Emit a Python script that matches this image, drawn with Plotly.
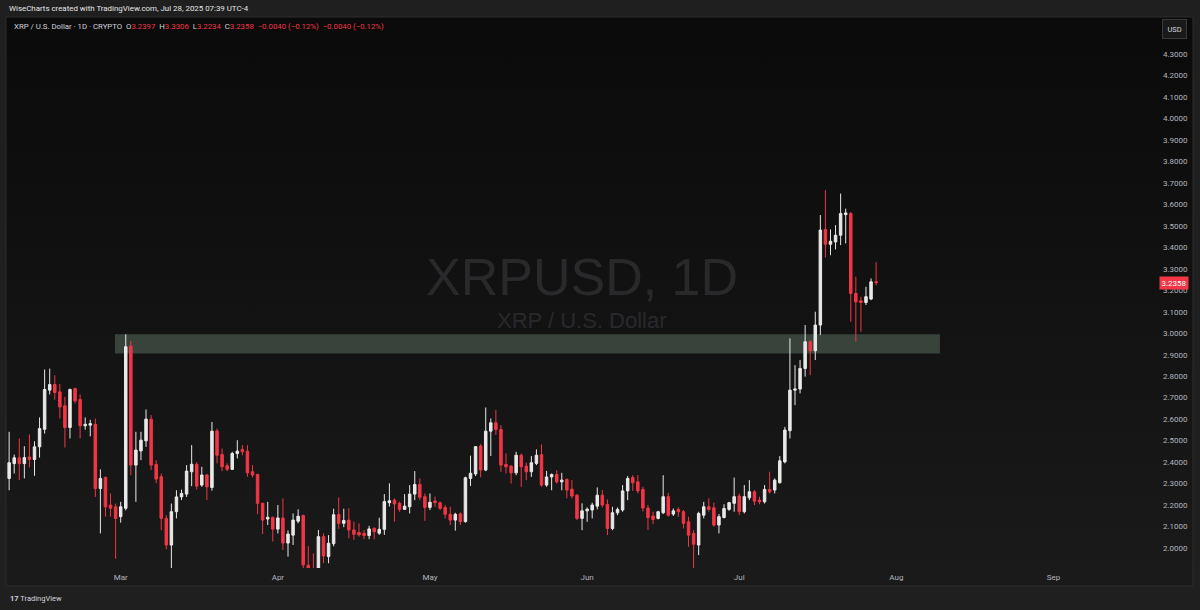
import base64
import pandas as pd
import plotly.graph_objects as go

# ---------------- data (XRP / USD, daily) ----------------
start_date = "2025-02-07"
end_date = "2025-07-28"

open_ = [
    # Feb 7-28
    2.324, 2.393, 2.420, 2.393, 2.424, 2.412, 2.471, 2.553, 2.735, 2.761, 2.727,
    2.662, 2.561, 2.742, 2.691, 2.569, 2.572, 2.576, 2.277, 2.329, 2.200, 2.192,
    # Mar
    2.146, 2.185, 2.940, 2.386, 2.452, 2.499, 2.600, 2.389, 2.332, 2.138, 2.014,
    2.169, 2.238, 2.251, 2.355, 2.390, 2.293, 2.340, 2.282, 2.545, 2.435, 2.383,
    2.366, 2.440, 2.459, 2.451, 2.355, 2.343, 2.208, 2.135, 2.143,
    # Apr
    2.088, 2.140, 2.023, 2.060, 2.125, 2.151, 1.920, 1.870, 1.800, 2.053, 1.960,
    2.020, 2.156, 2.115, 2.130, 2.084, 2.072, 2.068, 2.058, 2.092, 2.069, 2.087,
    2.211, 2.223, 2.208, 2.180, 2.192, 2.251, 2.296, 2.239,
    # May
    2.189, 2.219, 2.211, 2.189, 2.157, 2.130, 2.159, 2.123, 2.324, 2.345, 2.475,
    2.363, 2.544, 2.583, 2.552, 2.389, 2.381, 2.350, 2.432, 2.381, 2.355, 2.394,
    2.435, 2.293, 2.331, 2.342, 2.308, 2.319, 2.274, 2.246, 2.138,
    # Jun
    2.173, 2.177, 2.195, 2.246, 2.203, 2.091, 2.164, 2.177, 2.266, 2.328, 2.308,
    2.273, 2.186, 2.149, 2.138, 2.164, 2.239, 2.158, 2.180, 2.169, 2.122, 2.068,
    2.014, 2.153, 2.192, 2.187, 2.107, 2.142, 2.180, 2.208,
    # Jul 1-28
    2.242, 2.169, 2.234, 2.262, 2.223, 2.215, 2.273, 2.270, 2.304, 2.401, 2.546,
    2.735, 2.740, 2.836, 2.960, 2.918, 3.038, 3.483, 3.414, 3.425, 3.456, 3.552,
    3.557, 3.185, 3.151, 3.143, 3.159, 3.2397,
]

high = [
    2.541, 2.435, 2.510, 2.474, 2.529, 2.497, 2.608, 2.831, 2.835, 2.804, 2.763,
    2.704, 2.742, 2.747, 2.715, 2.608, 2.597, 2.603, 2.366, 2.332, 2.254, 2.207,
    2.215, 2.995, 2.965, 2.541, 2.541, 2.645, 2.619, 2.409, 2.347, 2.153, 2.207,
    2.269, 2.272, 2.386, 2.479, 2.400, 2.378, 2.345, 2.587, 2.556, 2.463, 2.394,
    2.448, 2.502, 2.479, 2.479, 2.386, 2.345, 2.211, 2.215, 2.146,
    2.200, 2.231, 2.082, 2.161, 2.180, 2.156, 2.009, 1.975, 2.084, 2.068, 2.060,
    2.183, 2.236, 2.183, 2.185, 2.123, 2.115, 2.084, 2.103, 2.096, 2.141, 2.251,
    2.301, 2.231, 2.216, 2.251, 2.293, 2.358, 2.324, 2.254,
    2.254, 2.239, 2.216, 2.200, 2.192, 2.164, 2.166, 2.332, 2.430, 2.475, 2.484,
    2.654, 2.603, 2.642, 2.572, 2.440, 2.386, 2.448, 2.440, 2.397, 2.428, 2.459,
    2.482, 2.359, 2.347, 2.362, 2.350, 2.324, 2.316, 2.251, 2.208,
    2.189, 2.211, 2.282, 2.270, 2.226, 2.192, 2.189, 2.293, 2.335, 2.339, 2.339,
    2.285, 2.200, 2.169, 2.173, 2.339, 2.257, 2.184, 2.189, 2.177, 2.146, 2.083,
    2.169, 2.215, 2.231, 2.211, 2.158, 2.204, 2.215, 2.328,
    2.254, 2.293, 2.316, 2.270, 2.239, 2.293, 2.355, 2.324, 2.428, 2.564, 2.976,
    2.851, 2.875, 3.038, 2.968, 3.100, 3.550, 3.666, 3.483, 3.503, 3.650, 3.580,
    3.565, 3.263, 3.170, 3.216, 3.255, 3.3306,
]

low = [
    2.269, 2.347, 2.316, 2.324, 2.375, 2.336, 2.421, 2.533, 2.715, 2.691, 2.603,
    2.468, 2.510, 2.673, 2.510, 2.551, 2.520, 2.238, 2.068, 2.146, 2.146, 1.950,
    2.118, 2.175, 2.339, 2.215, 2.409, 2.471, 2.363, 2.301, 2.083, 1.994, 1.905,
    2.138, 2.223, 2.238, 2.288, 2.272, 2.285, 2.223, 2.267, 2.394, 2.358, 2.358,
    2.363, 2.417, 2.432, 2.332, 2.329, 2.158, 2.065, 2.107, 2.030,
    2.068, 1.991, 1.960, 2.014, 2.115, 1.890, 1.610, 1.780, 1.770, 1.929, 1.929,
    2.008, 2.089, 2.097, 2.045, 2.038, 2.053, 2.041, 2.041, 2.041, 2.061, 2.061,
    2.193, 2.123, 2.169, 2.177, 2.161, 2.223, 2.223, 2.127,
    2.177, 2.192, 2.177, 2.138, 2.107, 2.081, 2.107, 2.118, 2.289, 2.335, 2.329,
    2.358, 2.428, 2.526, 2.355, 2.347, 2.300, 2.339, 2.285, 2.316, 2.331, 2.386,
    2.285, 2.285, 2.269, 2.300, 2.269, 2.231, 2.231, 2.130, 2.083,
    2.122, 2.138, 2.180, 2.189, 2.060, 2.083, 2.153, 2.169, 2.223, 2.266, 2.254,
    2.170, 2.084, 2.111, 2.133, 2.158, 2.146, 2.149, 2.146, 2.091, 2.006, 1.905,
    1.967, 2.138, 2.169, 2.099, 2.068, 2.138, 2.173, 2.169,
    2.153, 2.161, 2.223, 2.200, 2.204, 2.207, 2.254, 2.254, 2.300, 2.394, 2.510,
    2.665, 2.720, 2.798, 2.805, 2.875, 2.991, 3.352, 3.363, 3.390, 3.410, 3.418,
    3.053, 2.960, 3.007, 3.131, 3.154, 3.2234,
]

close = [
    2.397, 2.420, 2.393, 2.421, 2.412, 2.471, 2.556, 2.738, 2.761, 2.724, 2.657,
    2.561, 2.738, 2.685, 2.569, 2.576, 2.579, 2.277, 2.324, 2.192, 2.185, 2.138,
    2.192, 2.937, 2.386, 2.456, 2.502, 2.600, 2.386, 2.321, 2.138, 2.014, 2.169,
    2.238, 2.254, 2.358, 2.390, 2.288, 2.340, 2.285, 2.544, 2.432, 2.378, 2.366,
    2.440, 2.451, 2.448, 2.350, 2.340, 2.208, 2.130, 2.143, 2.088,
    2.140, 2.023, 2.065, 2.130, 2.148, 1.921, 1.870, 1.800, 2.053, 1.963, 2.022,
    2.155, 2.115, 2.128, 2.084, 2.064, 2.061, 2.058, 2.089, 2.076, 2.087, 2.216,
    2.220, 2.205, 2.180, 2.195, 2.251, 2.296, 2.236, 2.189,
    2.213, 2.211, 2.185, 2.157, 2.130, 2.157, 2.123, 2.327, 2.348, 2.472, 2.363,
    2.544, 2.583, 2.552, 2.386, 2.378, 2.350, 2.432, 2.378, 2.355, 2.397, 2.432,
    2.293, 2.331, 2.342, 2.308, 2.316, 2.270, 2.242, 2.138, 2.173,
    2.181, 2.200, 2.246, 2.200, 2.091, 2.164, 2.180, 2.266, 2.324, 2.304, 2.266,
    2.186, 2.142, 2.133, 2.169, 2.239, 2.153, 2.173, 2.169, 2.115, 2.060, 2.018,
    2.161, 2.192, 2.180, 2.107, 2.146, 2.184, 2.211, 2.239,
    2.169, 2.239, 2.262, 2.218, 2.215, 2.273, 2.262, 2.316, 2.406, 2.549, 2.735,
    2.740, 2.836, 2.960, 2.918, 3.038, 3.480, 3.414, 3.428, 3.456, 3.557, 3.560,
    3.185, 3.146, 3.143, 3.170, 3.239, 3.2358,
]

price_ticks = [2.0, 2.1, 2.2, 2.3, 2.4, 2.5, 2.6, 2.7, 2.8, 2.9, 3.0, 3.1,
               3.2, 3.3, 3.4, 3.5, 3.6, 3.7, 3.8, 3.9, 4.0, 4.1, 4.2, 4.3]

zone_low, zone_high = 2.905, 2.995
zone_start, zone_end = "2025-02-27 21:00", "2025-08-09 14:00"

last_price = 3.2358
symbol_title = "XRPUSD, 1D"
symbol_sub = "XRP / U.S. Dollar"
header_text = "WiseCharts created with TradingView.com, Jul 28, 2025 07:39 UTC-4"

dates = pd.date_range(start_date, end_date, freq="D")
assert len(dates) == len(open_) == len(high) == len(low) == len(close), (
    len(dates), len(open_), len(high), len(low), len(close))

# ---------------- figure ----------------
UP = "#e9e9ea"
DOWN = "#f23645"
FONT = "Roboto"

fig = go.Figure(
    go.Candlestick(
        x=dates, open=open_, high=high, low=low, close=close,
        increasing=dict(line=dict(color=UP, width=1), fillcolor=UP),
        decreasing=dict(line=dict(color=DOWN, width=1), fillcolor=DOWN),
        whiskerwidth=0, showlegend=False, hoverinfo="skip",
    )
)

# plot area: x 6..1128 px, y 17..568 px
W, H = 1200, 610
ml, mr, mt, mb = 6, 72, 17, 42
pw, ph = W - ml - mr, H - mt - mb

def px_x(px):
    return (px - ml) / pw

def px_y(py):
    return (H - mb - py) / ph

fig.update_layout(
    width=W, height=H, autosize=False,
    margin=dict(l=ml, r=mr, t=mt, b=mb),
    paper_bgcolor="#1f1f1f",
    plot_bgcolor="rgba(0,0,0,0)",
    font=dict(family=FONT, color="#b2b5be", size=8),
    showlegend=False,
    xaxis=dict(
        type="date",
        range=["2025-02-06 09:07", "2025-09-15 16:20"],
        rangeslider=dict(visible=False),
        tickformat="%b", dtick="M1", tick0="2025-01-01",
        showgrid=False, zeroline=False, showline=False, ticks="",
        tickfont=dict(size=8, color="#b2b5be"),
        ticklabelstandoff=3,
        fixedrange=True,
    ),
    yaxis=dict(
        side="right",
        range=[1.907, 4.472],
        tickvals=price_ticks,
        tickformat=".4f",
        showgrid=False, zeroline=False, showline=False, ticks="",
        tickfont=dict(size=8, color="#b2b5be"),
        ticklabelstandoff=34,
        fixedrange=True,
    ),
)

# background gradient of the chart frame
svg = ('<svg xmlns="http://www.w3.org/2000/svg" width="100" height="100" '
       'preserveAspectRatio="none"><defs><linearGradient id="g" x1="0" y1="0" '
       'x2="0" y2="1"><stop offset="0" stop-color="#0a0a0a"/>'
       '<stop offset="1" stop-color="#1a1a1a"/></linearGradient></defs>'
       '<rect width="100" height="100" fill="url(#g)"/></svg>')
src = "data:image/svg+xml;base64," + base64.b64encode(svg.encode()).decode()
fig.add_layout_image(
    source=src, xref="paper", yref="paper",
    x=px_x(6), y=px_y(17), sizex=px_x(1193) - px_x(6), sizey=px_y(17) - px_y(586),
    xanchor="left", yanchor="top", sizing="stretch", layer="below",
)

# frame border
fig.add_shape(type="rect", xref="paper", yref="paper",
              x0=px_x(6), x1=px_x(1193), y0=px_y(586), y1=px_y(17),
              line=dict(color="#2c2c2c", width=1), fillcolor="rgba(0,0,0,0)",
              layer="below")

# support zone
fig.add_shape(type="rect", xref="x", yref="y",
              x0=zone_start, x1=zone_end, y0=zone_low, y1=zone_high,
              line=dict(width=0), fillcolor="#38433b", layer="below")

# watermark
fig.add_annotation(text=symbol_title, xref="paper", yref="paper",
                   x=px_x(582), y=px_y(277), xanchor="center", showarrow=False,
                   font=dict(family="Liberation Sans", size=52, color="#29292c"))
fig.add_annotation(text=symbol_sub, xref="paper", yref="paper",
                   x=px_x(582), y=px_y(320), xanchor="center", showarrow=False,
                   font=dict(family="Liberation Sans", size=22, color="#29292c"))

# header
fig.add_annotation(text=header_text, xref="paper", yref="paper",
                   x=px_x(7), y=px_y(9), xanchor="left", yanchor="middle",
                   showarrow=False, font=dict(size=7.9, color="#e6e6e6"))

red = "#f23645"
sp = "\u00a0"
legend_txt = (
    f"XRP / U.S. Dollar · 1D · CRYPTO{sp}{sp}"
    f"O<span style='color:{red}'>{open_[-1]:.4f}</span>{sp}{sp}"
    f"H<span style='color:{red}'>{high[-1]:.4f}</span>{sp}{sp}"
    f"L<span style='color:{red}'>{low[-1]:.4f}</span>{sp}{sp}"
    f"C<span style='color:{red}'>{close[-1]:.4f}</span>{sp}{sp}"
    f"<span style='color:{red}'>−0.0040 (−0.12%)</span>{sp}{sp}"
    f"<span style='color:{red}'>−0.0040 (−0.12%)</span>"
)
fig.add_annotation(text=legend_txt, xref="paper", yref="paper",
                   x=px_x(12), y=px_y(27), xanchor="left", yanchor="middle",
                   showarrow=False, font=dict(size=7.8, color="#d1d4dc"))

# USD box
fig.add_annotation(text="USD", xref="paper", yref="paper",
                   x=px_x(1174), y=px_y(29), xanchor="center", yanchor="middle",
                   showarrow=False,
                   bgcolor="#1a1a1a", bordercolor="#3a3a3a", borderwidth=1,
                   borderpad=4.5, font=dict(size=7.5, color="#d1d4dc"))

# last price tag
fig.add_annotation(text=f"{last_price:.4f}", xref="paper", yref="y",
                   x=px_x(1174), y=last_price, xanchor="center", yanchor="middle",
                   showarrow=False, bgcolor=red, borderpad=1.5,
                   font=dict(size=8, color="#ffffff"))

# TradingView footer
fig.add_annotation(text="<b>17</b> TradingView", xref="paper", yref="paper",
                   x=px_x(8), y=px_y(598), xanchor="left", yanchor="middle",
                   showarrow=False, font=dict(size=7.5, color="#d1d4dc"))

fig.write_html("out.html", config={"displayModeBar": False},
               post_script="document.body.style.margin='0';")
